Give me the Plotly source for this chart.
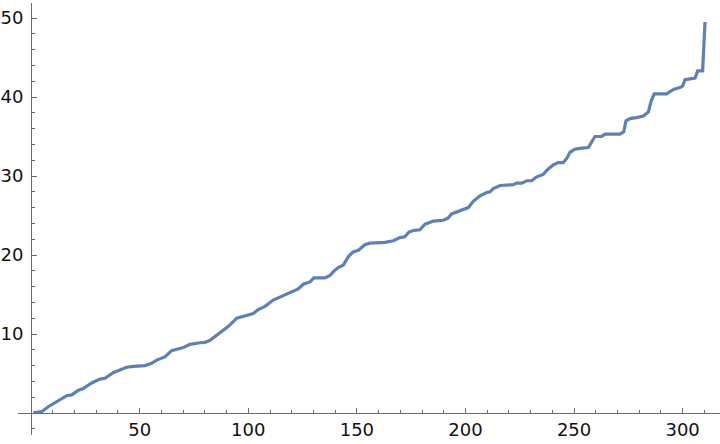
import plotly.graph_objects as go

# Knots (x, y)
x_vals = [1.0, 4.9, 7.9, 11.8, 16.4, 18.7, 21.8, 24.0, 27.9, 31.7, 34.0, 37.8, 40.9, 44.0, 47.1,
          52.4, 55.5, 57.8, 61.6, 64.7, 70.1, 73.2, 77.8, 80.1, 82.4, 84.7, 87.0, 91.0, 94.7,
          102.3, 104.6, 107.7, 111.5, 115.4, 119.2, 123.0, 125.3, 128.4, 130.2, 135.3, 137.6,
          139.5, 141.4, 143.7, 146.1, 148.3, 150.7, 153.7, 156.0, 160.6, 162.9, 166.8, 169.8,
          172.0, 174.0, 176.0, 179.0, 181.4, 185.2, 189.8, 192.1, 193.6, 197.5, 201.3, 203.6,
          206.7, 209.8, 211.3, 212.8, 215.9, 222.0, 223.6, 225.9, 228.2, 230.5, 232.8, 235.8,
          238.1, 240.4, 242.7, 245.0, 246.6, 248.1, 250.4, 252.7, 256.6, 258.1, 259.6, 262.7,
          264.2, 271.1, 272.9, 273.9, 276.1, 278.8, 281.9, 284.2, 285.4, 286.9, 292.6, 296.0,
          298.8, 300.0, 301.1, 303.4, 305.7, 306.9, 309.2, 310.3]
y_vals = [0.04, 0.17, 0.8, 1.4, 2.2, 2.3, 2.9, 3.1, 3.8, 4.3, 4.4, 5.1, 5.5, 5.8, 5.9,
          6.0, 6.3, 6.7, 7.1, 7.9, 8.3, 8.7, 8.9, 8.95, 9.2, 9.7, 10.2, 11.0, 12.0,
          12.6, 13.1, 13.5, 14.3, 14.8, 15.2, 15.7, 16.3, 16.6, 17.1, 17.1, 17.4,
          18.0, 18.4, 18.7, 19.8, 20.4, 20.6, 21.3, 21.5, 21.5, 21.6, 21.8, 22.2,
          22.3, 22.9, 23.1, 23.2, 23.9, 24.3, 24.4, 24.7, 25.2, 25.6, 26.0, 26.8,
          27.5, 27.9, 28.0, 28.4, 28.8, 28.9, 29.1, 29.1, 29.4, 29.4, 29.9, 30.2,
          30.9, 31.4, 31.7, 31.7, 32.2, 33.0, 33.4, 33.5, 33.6, 34.3, 35.0, 35.0,
          35.3, 35.3, 35.6, 37.0, 37.3, 37.4, 37.6, 38.1, 39.4, 40.4, 40.4, 41.0,
          41.2, 41.4, 42.2, 42.3, 42.4, 43.3, 43.3, 49.5]

x_ticks = [0, 50, 100, 150, 200, 250, 300]
x_labels = ["", "50", "100", "150", "200", "250", "300"]
y_ticks = [0, 10, 20, 30, 40, 50]
y_labels = ["", "10", "20", "30", "40", "50"]

x_range = [-6.03, 317.2]
y_range = [-2.78, 51.9]

fig = go.Figure(go.Scatter(
    x=x_vals, y=y_vals, mode="lines",
    line=dict(color="#5E81B5", width=3.2),
    hoverinfo="skip",
))

axis_color = "#6b6b6b"
font = dict(family="DejaVu Sans", size=18, color="#111111")

fig.update_layout(
    template="none",
    width=720, height=444,
    margin=dict(l=18, r=0, t=3, b=9),
    paper_bgcolor="white", plot_bgcolor="white",
    showlegend=False,
    xaxis=dict(
        range=x_range, anchor="free",
        position=(0 - y_range[0]) / (y_range[1] - y_range[0]),
        showline=True, linecolor=axis_color, linewidth=1,
        showgrid=False, zeroline=False,
        tickmode="array", tickvals=x_ticks, ticktext=x_labels,
        ticks="inside", ticklen=5, tickcolor=axis_color, tickwidth=1,
        minor=dict(ticks="inside", ticklen=3, tickcolor=axis_color, dtick=10, tick0=0, showgrid=False),
        tickfont=font, automargin=False, ticklabelstandoff=0,
    ),
    yaxis=dict(
        range=y_range, anchor="free",
        position=(0 - x_range[0]) / (x_range[1] - x_range[0]),
        showline=True, linecolor=axis_color, linewidth=1,
        showgrid=False, zeroline=False,
        tickmode="array", tickvals=y_ticks, ticktext=y_labels,
        ticks="inside", ticklen=5, tickcolor=axis_color, tickwidth=1,
        minor=dict(ticks="inside", ticklen=3, tickcolor=axis_color, dtick=2, tick0=0, showgrid=False),
        tickfont=font, automargin=False, ticklabelstandoff=4,
    ),
)

fig.write_html(
    "out.html",
    config={"displayModeBar": False},
    post_script="document.body.style.margin='0';document.body.style.padding='0';",
)
